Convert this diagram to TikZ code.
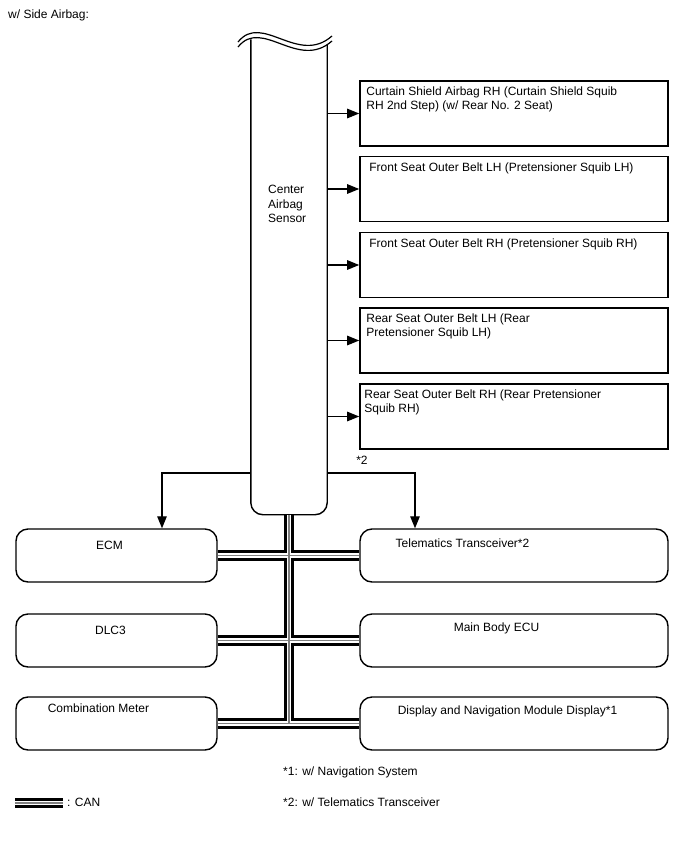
\documentclass[tikz,border=0pt]{standalone}
\usepackage{fontspec}
\setmainfont{Liberation Sans}
\usetikzlibrary{arrows.meta,positioning}

\tikzstyle{unit} = [draw, line width=1.6pt, minimum width=308pt, minimum height=65pt, inner sep=0pt]
\tikzstyle{ecu} = [draw, line width=1.4pt, rounded corners=12pt, minimum height=53pt, inner sep=0pt]
\tikzstyle{txt} = [inner sep=0pt, align=left, font=\fontsize{12}{14.5}\selectfont]
\tikzstyle{feed} = [line width=1.2pt, -{Triangle[length=12pt,width=9.5pt]}]

\begin{document}
\begin{tikzpicture}[x=1pt,y=-1pt]
\useasboundingbox (0,0) rectangle (688,852);
\node[txt, anchor=west] (title) at (8,15) {w/ Side Airbag:};
%begin sensor
\node[minimum width=76pt, minimum height=475pt, inner sep=0pt] (cas) at (289,277) {};
\draw[line width=1.4pt, rounded corners=12pt] (cas.north west) -- (cas.south west)
    -- (cas.south east) -- ([yshift=-5pt]cas.north east);
\draw[line width=1.2pt] (238,42) .. controls (262,12) and (298,66) .. (332,36);
\draw[line width=1.2pt] (238,47) .. controls (262,17) and (298,71) .. (332,41);
\node[txt, anchor=north west] (castxt) at (268,185) {Center\\Airbag\\Sensor};
%end sensor
%begin squibs
\node[unit] (cs1) at (514,113.5) {};
\node[unit] (cs2) at (514,189) {};
\node[unit] (cs3) at (514,265) {};
\node[unit] (cs4) at (514,340.5) {};
\node[unit] (cs5) at (514,416.5) {};
\node[txt, anchor=north west] at ([shift={(7,6)}]cs1.north west) {Curtain Shield Airbag RH (Curtain Shield Squib\\RH 2nd Step) (w/ Rear No. 2 Seat)};
\node[txt, anchor=north west] at ([shift={(10,7)}]cs2.north west) {Front Seat Outer Belt LH (Pretensioner Squib LH)};
\node[txt, anchor=north west] at ([shift={(10,7)}]cs3.north west) {Front Seat Outer Belt RH (Pretensioner Squib RH)};
\node[txt, anchor=north west] at ([shift={(7,6)}]cs4.north west) {Rear Seat Outer Belt LH (Rear\\Pretensioner Squib LH)};
\node[txt, anchor=north west] at ([shift={(5,6)}]cs5.north west) {Rear Seat Outer Belt RH (Rear Pretensioner\\Squib RH)};
\draw[feed] (cas.east |- cs1.west) -- (cs1.west);
\draw[feed] (cas.east |- cs2.west) -- (cs2.west);
\draw[feed] (cas.east |- cs3.west) -- (cs3.west);
\draw[feed] (cas.east |- cs4.west) -- (cs4.west);
\draw[feed] (cas.east |- cs5.west) -- (cs5.west);
%end squibs
%begin ecus
\node[ecu, minimum width=201pt] (ecm) at (116.5,555.5) {};
\node[ecu, minimum width=201pt] (dlc) at (116.5,640.5) {};
\node[ecu, minimum width=201pt] (cmb) at (116.5,723.5) {};
\node[ecu, minimum width=308pt] (tts) at (514,555.5) {};
\node[ecu, minimum width=308pt] (mbe) at (514,640.5) {};
\node[ecu, minimum width=308pt] (dnm) at (514,723.5) {};
\node[txt, anchor=base] at (109.5,549.3) {ECM};
\node[txt, anchor=base] at (110.5,634.3) {DLC3};
\node[txt, anchor=base] at (98.5,712.3) {Combination Meter};
\node[txt, anchor=base] at (462.5,547.3) {Telematics Transceiver*2};
\node[txt, anchor=base] at (496.5,631.3) {Main Body ECU};
\node[txt, anchor=base] at (507.5,714.3) {Display and Navigation Module Display*1};
\draw[feed] (cas.west |- 0,473) -| ([xshift=45.5pt]ecm.north);
\draw[feed] (cas.east |- 0,473) -| ([xshift=-99pt]tts.north);
\node[txt, anchor=base] (star2) at (362,464) {*2};
%end ecus
%begin can
\coordinate (legA) at (15,803);
\coordinate (legB) at (63,803);
\foreach \w/\c in {10.5/black,4.2/white,1.5/gray} {
    \draw[line width=\w pt, \c] (cas.south) -- (cas.south |- cmb.east)
        (ecm.east) -- (tts.west) (dlc.east) -- (mbe.west) (cmb.east) -- (dnm.west)
        (legA) -- (legB);
}
%end can
%begin notes
\node[txt, anchor=base west] (legtxt) at (67,806.5) {: CAN};
\node[txt, anchor=base west] (note1) at (283,775.3) {*1: w/ Navigation System};
\node[txt, anchor=base west] (note2) at (283,806.5) {*2: w/ Telematics Transceiver};
%end notes
\end{tikzpicture}
\end{document}
